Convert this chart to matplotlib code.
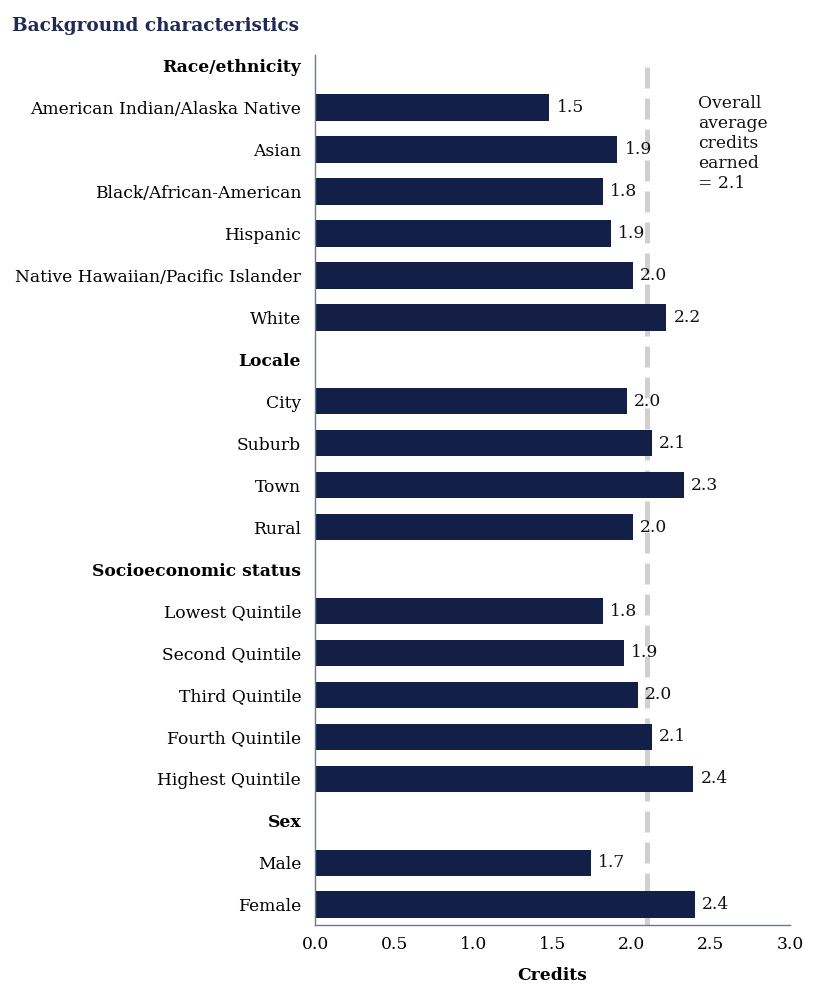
import numpy as np
import matplotlib.pyplot as plt

# rows top to bottom; headers have no value
labels = ["Race/ethnicity", "American Indian/Alaska Native", "Asian", "Black/African-American",
          "Hispanic", "Native Hawaiian/Pacific Islander", "White",
          "Locale", "City", "Suburb", "Town", "Rural",
          "Socioeconomic status", "Lowest Quintile", "Second Quintile", "Third Quintile",
          "Fourth Quintile", "Highest Quintile",
          "Sex", "Male", "Female"]
values = [None, 1.48, 1.91, 1.82, 1.87, 2.01, 2.22,
          None, 1.97, 2.13, 2.33, 2.01,
          None, 1.82, 1.95, 2.04, 2.13, 2.39,
          None, 1.74, 2.40]
shown = [None, "1.5", "1.9", "1.8", "1.9", "2.0", "2.2",
         None, "2.0", "2.1", "2.3", "2.0",
         None, "1.8", "1.9", "2.0", "2.1", "2.4",
         None, "1.7", "2.4"]
overall = 2.1

navy = "#141f47"
spine_col = "#5f7d98"
fs = 12.3
plt.rcParams['font.family'] = ['DejaVu Serif']

fig = plt.figure(figsize=(8.14, 9.85), dpi=100)
ax = fig.add_axes([0.387, 0.061, 0.5835, 0.883])

y = np.arange(len(labels))
for i, (v, s) in enumerate(zip(values, shown)):
    if v is None:
        continue
    ax.barh(i, v, height=0.64, color=navy, zorder=2)
    ax.text(v + 0.045, i, s, va='center', ha='left', fontsize=fs, color='#111111', zorder=3)

ax.axvline(overall, ymax=0.99, color='#d0d0d0', lw=3.6, dashes=(4.2, 2.0), zorder=1)
ax.text(2.42, 0.72, "Overall\naverage\ncredits\nearned\n= 2.1", va='top', ha='left',
        fontsize=fs, color='#111111', linespacing=1.22)

ax.set_ylim(len(labels) - 1 + 0.476, -0.238)
ax.set_xlim(0, 3.0)
ticks = np.arange(0, 3.01, 0.5)
ax.set_xticks(ticks)
ax.set_xticklabels([f"{t:.1f}" for t in ticks], fontsize=fs)
ax.tick_params(axis='x', length=0, pad=8)
ax.set_yticks(y)
ax.set_yticklabels(labels, fontsize=fs)
ax.tick_params(axis='y', length=0, pad=10)
for i, lab in enumerate(ax.get_yticklabels()):
    if values[i] is None:
        lab.set_fontweight('bold')

for sp in ['top', 'right']:
    ax.spines[sp].set_visible(False)
for sp in ['left', 'bottom']:
    ax.spines[sp].set_color(spine_col)
    ax.spines[sp].set_linewidth(1.0)

ax.set_xlabel("Credits", fontsize=fs, fontweight='bold', labelpad=10)
fig.text(0.015, 0.983, "Background characteristics", fontsize=13.3, fontweight='bold',
         color='#1f2a55', va='top', ha='left')

fig.savefig("out.png", dpi=100)
